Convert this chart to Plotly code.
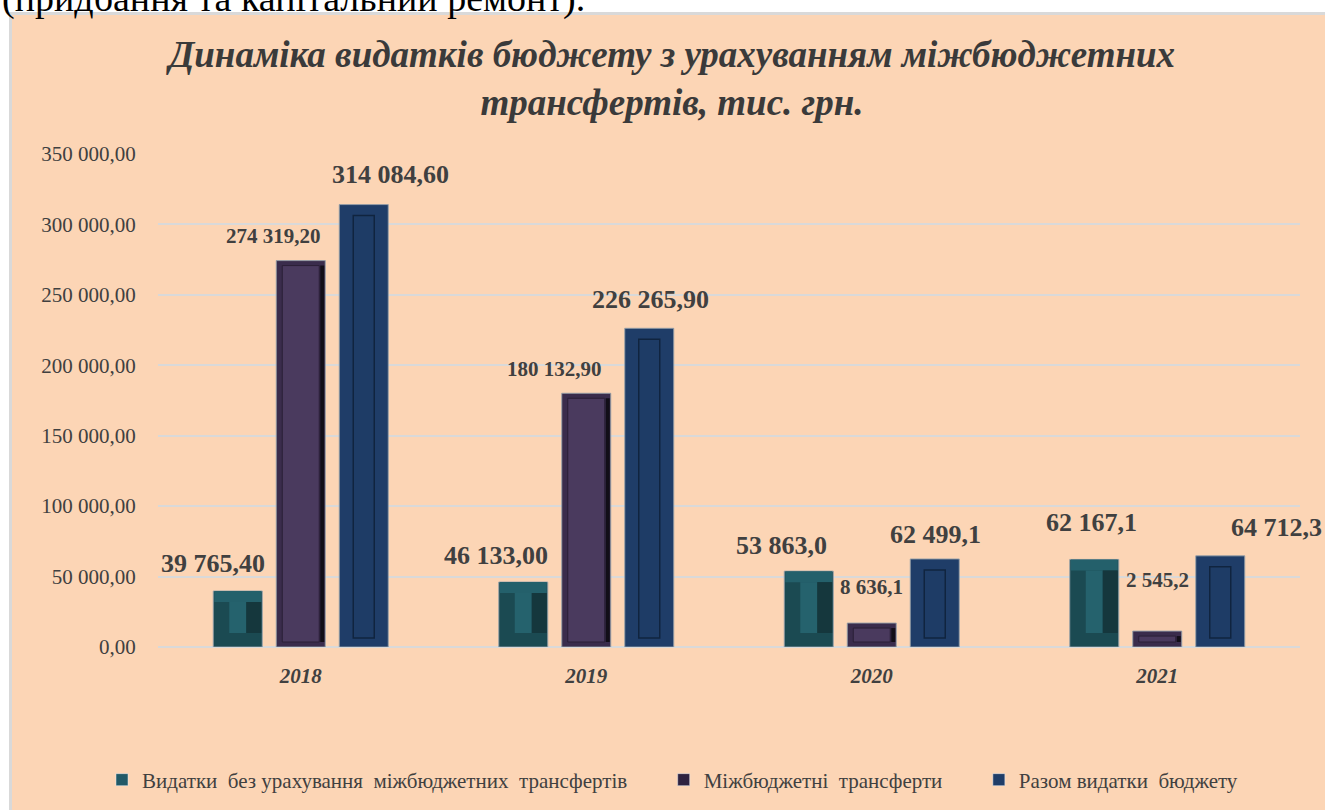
import plotly.graph_objects as go

# ---------------- data ----------------
years = ["2018", "2019", "2020", "2021"]
series_names = [
    "Видатки  без урахування  міжбюджетних  трансфертів",
    "Міжбюджетні  трансферти",
    "Разом видатки  бюджету",
]
spending_excl_transfers = [39765.40, 46133.00, 53863.0, 62167.1]
transfers_bar_heights = [274319.20, 180132.90, 17000.0, 11300.0]  # heights as drawn
total_spending = [314084.60, 226265.90, 62499.1, 64712.3]

labels_excl = ["39 765,40", "46 133,00", "53 863,0", "62 167,1"]
labels_transfers = ["274 319,20", "180 132,90", "8 636,1", "2 545,2"]
labels_total = ["314 084,60", "226 265,90", "62 499,1", "64 712,3"]

title_text = "Динаміка видатків бюджету з урахуванням міжбюджетних<br>трансфертів, тис. грн."
header_text = "(придбання та капітальний ремонт)."

# ---------------- geometry / style ----------------
W, H = 1325, 810
L, R, T, B = 158, 25, 154, 163
plot_w = W - L - R
plot_h = H - T - B
YMAX = 350000
cat_px = plot_w / len(years)
u_per_px = YMAX / plot_h

BAR_W = 49
PITCH = 63

FONT = "Liberation Serif, Times New Roman, serif"
TXT = "#404040"

def px_x(p):
    return p / cat_px

def paper_x(px):
    return (px - L) / plot_w

def paper_y(py):
    return (H - B - py) / plot_h

fig = go.Figure()

series_vals = [spending_excl_transfers, transfers_bar_heights, total_spending]
edge_cols = ["#1B4A52", "#3A2C4C", "#1F3D68"]
legend_cols = ["#215967", "#2E2240", "#1F3D68"]

for k, (name, vals) in enumerate(zip(series_names, series_vals)):
    left = (k - 1) * PITCH - BAR_W / 2
    legend_name = name.replace("  ", "\u00a0 ") + "\u00a0" * 6
    fig.add_trace(go.Bar(
        x=years, y=vals, name=legend_name,
        width=px_x(BAR_W), offset=px_x(left),
        marker=dict(color=edge_cols[k], line=dict(color="rgba(150,160,170,0.9)", width=1)),
        hoverinfo="skip", showlegend=False,
    ))
    if k == 0:
        band = 11 * u_per_px
        bot = 14 * u_per_px
        fig.add_trace(go.Bar(
            x=years, y=[band] * len(vals), base=[v - band for v in vals],
            width=px_x(BAR_W - 2), offset=px_x(left + 1),
            marker=dict(color="#24606B", line=dict(width=0)),
            hoverinfo="skip", showlegend=False,
        ))
        inset = 16
        fig.add_trace(go.Bar(
            x=years, y=[max(v - band - bot, 0) for v in vals], base=[bot] * len(vals),
            width=px_x(BAR_W - 2 * inset), offset=px_x(left + inset),
            marker=dict(color="#25626D", line=dict(width=0)),
            hoverinfo="skip", showlegend=False,
        ))
        fig.add_trace(go.Bar(
            x=years, y=[max(v - band - bot, 0) for v in vals], base=[bot] * len(vals),
            width=px_x(inset - 1), offset=px_x(left + BAR_W - inset),
            marker=dict(color="#15373D", line=dict(width=0)),
            hoverinfo="skip", showlegend=False,
        ))
    elif k == 1:
        inset_x, inset_y = 6, 5
        b = inset_y * u_per_px
        fig.add_trace(go.Bar(
            x=years, y=[max(v - 2 * b, 0) for v in vals], base=[b] * len(vals),
            width=px_x(BAR_W - 2 * inset_x), offset=px_x(left + inset_x),
            marker=dict(color="#4A3A5E", line=dict(color="#2A1F36", width=1)),
            hoverinfo="skip", showlegend=False,
        ))
        fig.add_trace(go.Bar(
            x=years, y=[max(v - 2 * b, 0) for v in vals], base=[b] * len(vals),
            width=px_x(4), offset=px_x(left + BAR_W - 5),
            marker=dict(color="#120E18", line=dict(width=0)),
            hoverinfo="skip", showlegend=False,
        ))
    else:
        inset_x, top_y, bot_y = 14, 11, 9
        fig.add_trace(go.Bar(
            x=years, y=[max(v - (top_y + bot_y) * u_per_px, 0) for v in vals],
            base=[bot_y * u_per_px] * len(vals),
            width=px_x(BAR_W - 2 * inset_x), offset=px_x(left + inset_x),
            marker=dict(color="#1E3C66", line=dict(color="#10243F", width=1.5)),
            hoverinfo="skip", showlegend=False,
        ))
    fig.add_trace(go.Bar(
        x=[None], y=[None], name=legend_name,
        marker=dict(color=legend_cols[k]), showlegend=True, hoverinfo="skip",
    ))

# ---------------- data labels ----------------
label_sets = [labels_excl, labels_transfers, labels_total]
label_sizes = [[26, 26, 26, 26], [21, 21, 21, 21], [26, 26, 26, 26]]
label_dx = [[-88, -90, -90, -66], [-27, -32, 0, 0], [90, 64, 64, 119]]
label_dy = [[27, 27, 26, 37], [25, 24, 36, 51], [30, 29, 24, 28]]

annotations = []
for k in range(3):
    for i, yr in enumerate(years):
        annotations.append(dict(
            x=years.index(yr), y=series_vals[k][i], xref="x", yref="y",
            xshift=label_dx[k][i], yshift=label_dy[k][i],
            text=label_sets[k][i], showarrow=False,
            xanchor="center", yanchor="middle",
            font=dict(family=FONT, size=label_sizes[k][i], color=TXT, weight="bold"),
        ))

annotations.append(dict(
    x=paper_x(0), y=paper_y(22), xref="paper", yref="paper",
    xanchor="left", yanchor="bottom", showarrow=False,
    text=header_text, font=dict(family=FONT, size=38, color="#000000"),
))

annotations.append(dict(
    x=paper_x(670), y=paper_y(78), xref="paper", yref="paper",
    xanchor="center", yanchor="middle", showarrow=False,
    text=title_text,
    font=dict(family=FONT, size=37, color="#3A3A3A", weight="bold", style="italic"),
))

shapes = [dict(
    type="rect", xref="paper", yref="paper", layer="below",
    x0=paper_x(10.5), x1=paper_x(1340), y0=paper_y(830), y1=paper_y(13.5),
    fillcolor="#FCD5B5", line=dict(color="#D9D9D9", width=3),
)]

fig.update_layout(
    width=W, height=H,
    margin=dict(l=L, r=R, t=T, b=B, autoexpand=False),
    paper_bgcolor="#FFFFFF", plot_bgcolor="rgba(0,0,0,0)",
    barmode="overlay",
    separators=", ",
    xaxis=dict(
        type="category", categoryorder="array", categoryarray=years,
        range=[-0.5, len(years) - 0.5],
        showgrid=False, zeroline=False, showline=False,
        ticks="outside", ticklen=10, tickcolor="rgba(0,0,0,0)",
        tickfont=dict(family=FONT, size=21, color=TXT, weight="bold", style="italic"),
    ),
    yaxis=dict(
        range=[0, YMAX], dtick=50000, tickformat=",.2f",
        showgrid=True, gridcolor="#D9D9D9", gridwidth=2,
        zeroline=True, zerolinecolor="#D9D9D9", zerolinewidth=2,
        showline=False,
        ticks="outside", ticklen=17, tickcolor="rgba(0,0,0,0)",
        tickfont=dict(family=FONT, size=21, color=TXT),
    ),
    legend=dict(
        orientation="h", x=paper_x(102), xanchor="left",
        y=paper_y(780), yanchor="middle",
        bgcolor="rgba(0,0,0,0)",
        font=dict(family=FONT, size=21, color=TXT),
        itemclick=False, itemdoubleclick=False,
    ),
    annotations=annotations,
    shapes=shapes,
    showlegend=True,
)

fig.write_html(
    "out.html",
    config={"displayModeBar": False},
    post_script="document.body.style.margin='0';document.body.style.padding='0';",
)
